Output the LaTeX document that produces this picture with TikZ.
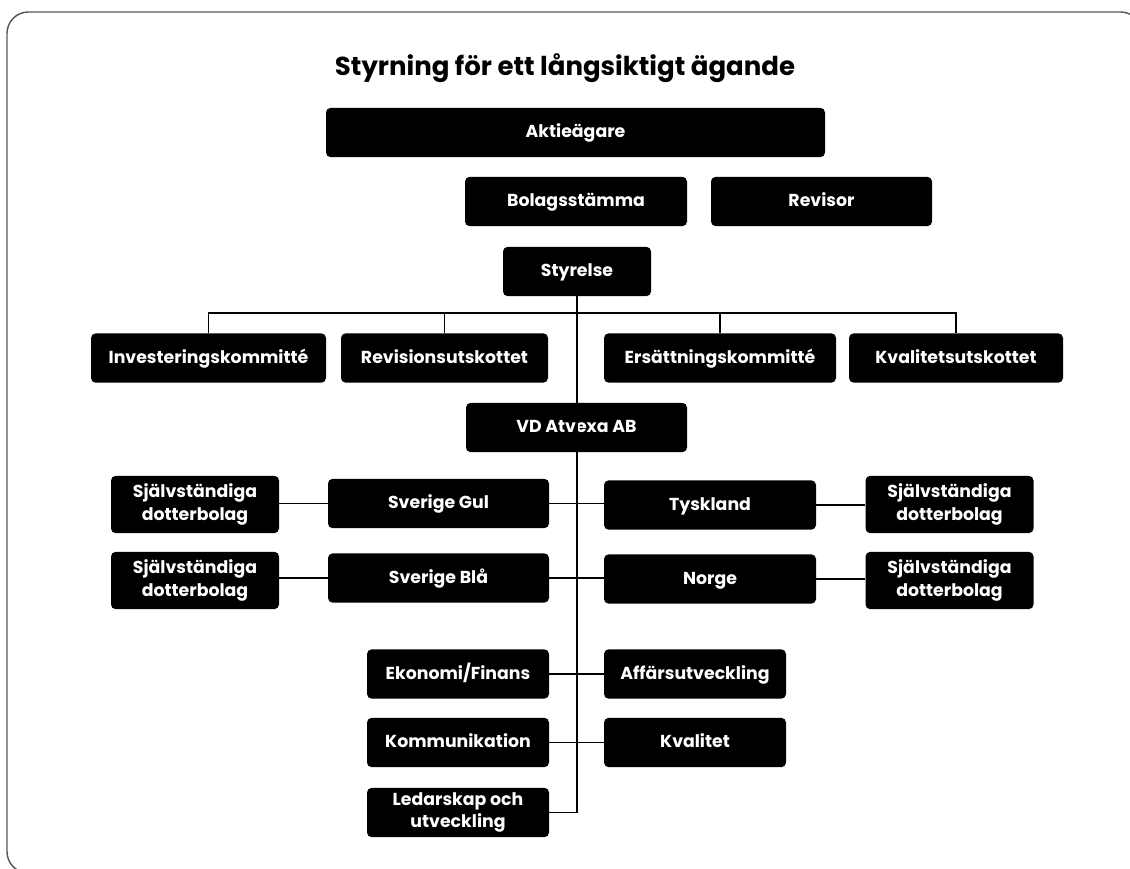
\documentclass[tikz,border=0pt]{standalone}
\usepackage{fontspec}
\setmainfont{Poppins}
\tikzset{
    boite/.style={fill=black, text=white, rounded corners=3.5pt, inner sep=0pt,
      align=center, font=\bfseries\fontsize{13}{17}\selectfont,
      text height=1em, text depth=0.2em,
      minimum height=37pt, minimum width=#1*0.75pt},
    boite/.default=200,
    haute/.style={minimum height=43pt, text height=, text depth=},
    lien/.style={line width=0.8pt},
  }
\begin{document}
\begin{tikzpicture}[x=0.75pt,y=-0.75pt]
				  %cadre
				  \useasboundingbox (0,0) rectangle (1130,868);
				  \begin{scope}
				  \clip (0,0) rectangle (1130,868);
				  \draw[gray!70!black, line width=1.1pt, rounded corners=16pt] (7,12) rectangle (1142,873);
				  \end{scope}
				  %titre
				  \node[font=\bfseries\fontsize{19.5}{22}\selectfont] (titre) at (565,68) {Styrning för ett långsiktigt ägande};
				  %AGARE
				  \node[boite=499] (akt) at (575.5,132.5) {Aktieägare};
				  \node[boite=222] (bol) at (576,201.5) {Bolagsstämma};
				  \node[boite=221] (rev) at (821.5,201.5) {Revisor};
				  \node[boite=148] (sty) at (577,271.5) {Styrelse};
				  %UTSKOTT
				  \node[boite=235] (inv) at (208.5,358) {Investeringskommitté};
				  \node[boite=207] (revu) at (444.5,358) {Revisionsutskottet};
				  \node[boite=232] (ers) at (720,358) {Ersättningskommitté};
				  \node[boite=214] (kva) at (956,358) {Kvalitetsutskottet};
				  \coordinate (bus) at (577,313);
				  \draw[lien] (inv.north) |- (bus) -| (kva.north);
				  \draw[lien] (revu.north) -- (revu.north |- bus);
				  \draw[lien] (ers.north) -- (ers.north |- bus);
				  %VD
				  \node[boite=221] (vd) at (576.5,427.5) {VD Atvexa AB};
				  %LANDER
				  \node[boite=221] (sgul) at (438.5,503.5) {Sverige Gul};
				  \node[boite=221] (sbla) at (438.5,578) {Sverige Blå};
				  \node[boite=212] (tys) at (710,505) {Tyskland};
				  \node[boite=212] (nor) at (710,579) {Norge};
				  \node[boite=168,haute] (sj1) at (195,504.5) {Självständiga\\dotterbolag};
				  \node[boite=168,haute] (sj2) at (195,580.5) {Självständiga\\dotterbolag};
				  \node[boite=168,haute] (sj3) at (949.5,504.5) {Självständiga\\dotterbolag};
				  \node[boite=168,haute] (sj4) at (949.5,580.5) {Självständiga\\dotterbolag};
				  \draw[lien] (sj1.east |- sgul.east) -- (sgul.west);
				  \draw[lien] (sgul.east) -- (tys.west |- sgul.east);
				  \draw[lien] (tys.east) -- (sj3.west |- tys.east);
				  \draw[lien] (sj2.east |- sbla.east) -- (sbla.west);
				  \draw[lien] (sbla.east) -- (nor.west |- sbla.east);
				  \draw[lien] (nor.east) -- (sj4.west |- nor.east);
				  %FUNKTIONER
				  \node[boite=182] (eko) at (458,674) {Ekonomi/Finans};
				  \node[boite=182] (aff) at (695,674) {Affärsutveckling};
				  \node[boite=182] (kom) at (458,742.5) {Kommunikation};
				  \node[boite=182] (kval) at (695,742.5) {Kvalitet};
				  \node[boite=182,text height=,text depth=] (led) at (458,812.5) {Ledarskap och\\utveckling};
				  \draw[lien] (eko.east) -- (aff.west);
				  \draw[lien] (kom.east) -- (kval.west);
				  %tronc
				  \coordinate (fin) at (sty.south |- led.east);
				  \draw[lien] (sty.south) -- (fin) -- (led.east);
				  \end{tikzpicture}
\end{document}
